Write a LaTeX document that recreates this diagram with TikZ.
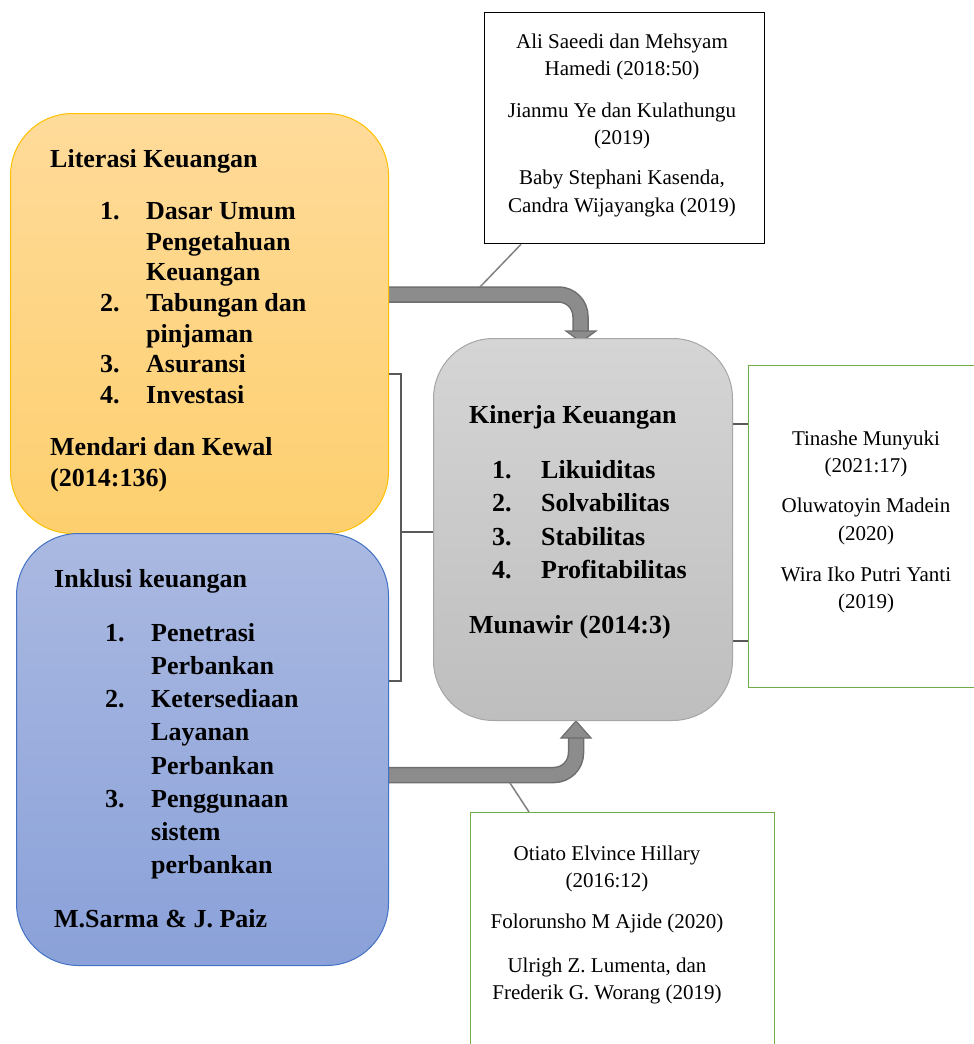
\documentclass[tikz,border=0pt]{standalone}
\usepackage{fontspec}
\setmainfont{Liberation Serif}
\usetikzlibrary{calc}
\pgfdeclarelayer{bg}
\pgfsetlayers{bg,main}
\definecolor{orTop}{HTML}{FFDB9A}
\definecolor{orBot}{HTML}{FDCF6E}
\definecolor{orLine}{HTML}{FFC000}
\definecolor{blTop}{HTML}{AAB9E1}
\definecolor{blBot}{HTML}{8AA1D9}
\definecolor{blLine}{HTML}{4472C4}
\definecolor{gyTop}{HTML}{D5D5D5}
\definecolor{gyBot}{HTML}{BEBEBE}
\definecolor{gyLine}{HTML}{A6A6A6}
\definecolor{grLine}{HTML}{70AD47}
\definecolor{conLine}{HTML}{595959}
\definecolor{fatIn}{HTML}{8C8C8C}
\definecolor{fatOut}{HTML}{6E6E6E}
\begin{document}
\begin{tikzpicture}[x=1pt,y=-1pt,
  rbox/.style={draw, rounded corners=62pt, line width=1pt, inner sep=0pt},
  citebox/.style={draw, line width=1.3pt, fill=white, inner sep=0pt},
  bt/.style={anchor=base west, font=\fontsize{26}{31}\selectfont\bfseries, inner sep=0pt},
  ct/.style={anchor=base, font=\fontsize{21}{25}\selectfont, inner sep=0pt},
  conn/.style={draw=conLine, line width=2pt},
  thinconn/.style={draw=gray, line width=1.5pt},
  fatout/.style={draw=fatOut, line width=16.5pt},
  fatin/.style={draw=fatIn, line width=13.5pt}]
\useasboundingbox (0,0) rectangle (974,1044);
\clip (0,0) rectangle (974,1044);

% boxes
\node[rbox, draw=orLine, top color=orTop, bottom color=orBot, minimum width=378pt, minimum height=420pt, anchor=north west] (lit) at (10,113) {};
\node[rbox, draw=blLine, top color=blTop, bottom color=blBot, minimum width=372pt, minimum height=432pt, anchor=north west] (ink) at (16,533) {};
\node[rbox, draw=gyLine, top color=gyTop, bottom color=gyBot, rounded corners=60pt, minimum width=299pt, minimum height=382pt, anchor=north west] (kin) at (433,338) {};
\node[citebox, draw=black, minimum width=280pt, minimum height=231pt, anchor=north west] (c1) at (484,12) {};
\node[citebox, draw=grLine, minimum width=240pt, minimum height=322pt, anchor=north west] (c2) at (748,365) {};
\node[citebox, draw=grLine, minimum width=304pt, minimum height=250pt, anchor=north west] (c3) at (470,812) {};

% connectors (behind)
\begin{pgfonlayer}{bg}
  % top fat arrow
  \draw[fatout, rounded corners=22pt] (lit.east |- 0,294.5) -| (580.5,333);
  \draw[fatin, rounded corners=22pt] (lit.east |- 0,294.5) -| (580.5,333);
  \fill[fatIn, draw=fatOut, line width=1.2pt] (566,331) -- (596,331) -- (581,342) -- cycle;
  % bottom fat arrow
  \draw[fatout, rounded corners=22pt] (ink.east |- 0,775) -| (576,736);
  \draw[fatin, rounded corners=22pt] (ink.east |- 0,775) -| (576,736);
  \fill[fatIn, draw=fatOut, line width=1.2pt] (561,738) -- (591,738) -- (576,721) -- cycle;
  % thin lines to citation boxes
  \draw[thinconn] (c1.south -| 521,0) -- (480,287);
  \draw[thinconn] (510,783) -- (c3.north -| 529,0);
  % bracket
  \draw[conn] (lit.east |- 0,374) -- (401,374) -- (401,681) -- (ink.east |- 0,681);
  \draw[conn] (401,532) -- (kin.west |- 0,532);
  % right connectors
  \draw[conn] (kin.east |- 0,424) -- (c2.west |- 0,424);
  \draw[conn] (kin.east |- 0,641) -- (c2.west |- 0,641);
\end{pgfonlayer}

% Literasi text
\node[bt] (l0) at (50,167) {Literasi Keuangan};
\node[bt] (l1n) at (100,219) {1.};
\node[bt] (l1a) at (146,219) {Dasar Umum};
\node[bt] (l1b) at (146,250) {Pengetahuan};
\node[bt] (l1c) at (146,280) {Keuangan};
\node[bt] (l2n) at (100,311) {2.};
\node[bt] (l2a) at (146,311) {Tabungan dan};
\node[bt] (l2b) at (146,342) {pinjaman};
\node[bt] (l3n) at (100,372) {3.};
\node[bt] (l3a) at (146,372) {Asuransi};
\node[bt] (l4n) at (100,403) {4.};
\node[bt] (l4a) at (146,403) {Investasi};
\node[bt] (l5) at (50,455) {Mendari dan Kewal};
\node[bt] (l6) at (50,486) {(2014:136)};

% Inklusi text
\node[bt] (i0) at (54,587) {Inklusi keuangan};
\node[bt] (i1n) at (105,641) {1.};
\node[bt] (i1a) at (151,641) {Penetrasi};
\node[bt] (i1b) at (151,674) {Perbankan};
\node[bt] (i2n) at (105,707) {2.};
\node[bt] (i2a) at (151,707) {Ketersediaan};
\node[bt] (i2b) at (151,740) {Layanan};
\node[bt] (i2c) at (151,774) {Perbankan};
\node[bt] (i3n) at (105,807) {3.};
\node[bt] (i3a) at (151,807) {Penggunaan};
\node[bt] (i3b) at (151,840) {sistem};
\node[bt] (i3c) at (151,873) {perbankan};
\node[bt] (i4) at (54,927) {M.Sarma \& J. Paiz};

% Kinerja text
\node[bt] (k0) at (469,423) {Kinerja Keuangan};
\node[bt] (k1n) at (492,478) {1.};
\node[bt] (k1a) at (541,478) {Likuiditas};
\node[bt] (k2n) at (492,511) {2.};
\node[bt] (k2a) at (541,511) {Solvabilitas};
\node[bt] (k3n) at (492,545) {3.};
\node[bt] (k3a) at (541,545) {Stabilitas};
\node[bt] (k4n) at (492,578) {4.};
\node[bt] (k4a) at (541,578) {Profitabilitas};
\node[bt] (k5) at (469,633) {Munawir (2014:3)};

% top citation text
\node[ct] (a1) at (622,48) {Ali Saeedi dan Mehsyam};
\node[ct] (a2) at (622,75) {Hamedi (2018:50)};
\node[ct] (a3) at (622,117) {Jianmu Ye dan Kulathungu};
\node[ct] (a4) at (622,144) {(2019)};
\node[ct] (a5) at (622,184) {Baby Stephani Kasenda,};
\node[ct] (a6) at (622,212) {Candra Wijayangka (2019)};

% right citation text
\node[ct] (b1) at (866,445) {Tinashe Munyuki};
\node[ct] (b2) at (866,472) {(2021:17)};
\node[ct] (b3) at (866,512) {Oluwatoyin Madein};
\node[ct] (b4) at (866,540) {(2020)};
\node[ct] (b5) at (866,581) {Wira Iko Putri Yanti};
\node[ct] (b6) at (866,608) {(2019)};

% bottom citation text
\node[ct] (d1) at (607,860) {Otiato Elvince Hillary};
\node[ct] (d2) at (607,887) {(2016:12)};
\node[ct] (d3) at (607,928) {Folorunsho M Ajide (2020)};
\node[ct] (d4) at (607,972) {Ulrigh Z. Lumenta, dan};
\node[ct] (d5) at (607,999) {Frederik G. Worang (2019)};
\end{tikzpicture}
\end{document}
